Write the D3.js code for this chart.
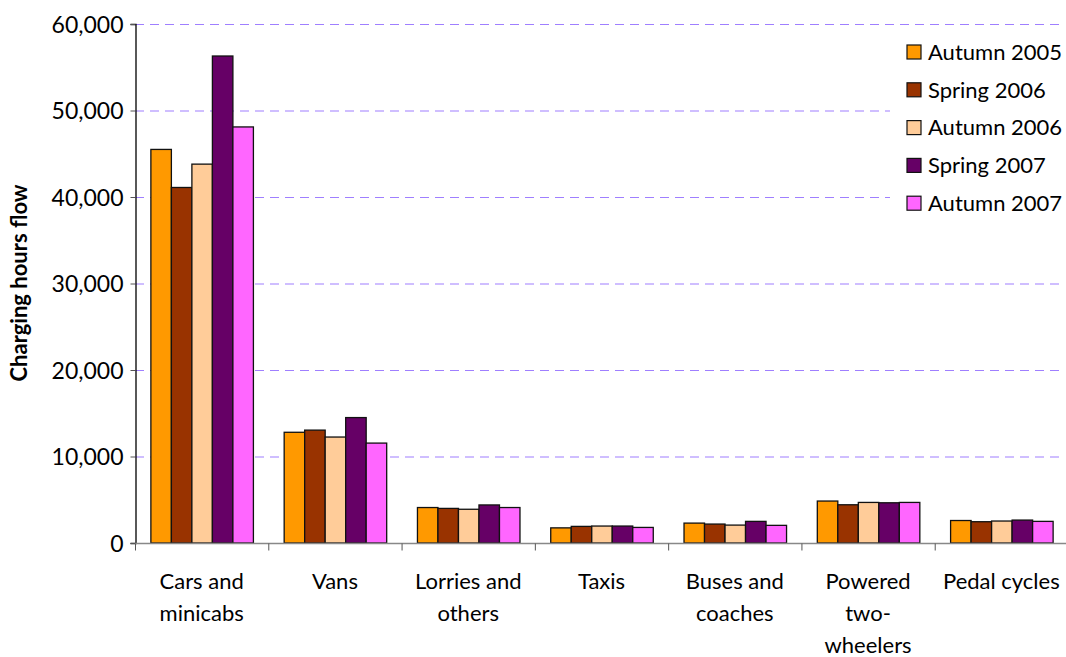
<!DOCTYPE html>
<html><head><meta charset="utf-8">
<script src="https://cdn.jsdelivr.net/npm/d3@7"></script>
<style>body{margin:0;background:#fff}svg{display:block}text{font-family:Lato,"Open Sans",sans-serif;fill:#000}</style>
</head><body><svg id="c" width="1066" height="657"></svg>
<script>
const categories = [["Cars and","minicabs"],["Vans"],["Lorries and","others"],["Taxis"],["Buses and","coaches"],["Powered","two-","wheelers"],["Pedal cycles"]];
const seriesNames = ["Autumn 2005","Spring 2006","Autumn 2006","Spring 2007","Autumn 2007"];
const seriesColors = ["#FF9900","#993300","#FFCC99","#660066","#FF66FF"];
const autumn2005 = [45500,12800,4100,1750,2300,4850,2600];
const spring2006 = [41100,13050,4000,1920,2190,4420,2460];
const autumn2006 = [43800,12250,3900,1960,2070,4690,2540];
const spring2007 = [56300,14500,4400,1960,2500,4650,2650];
const autumn2007 = [48100,11550,4100,1800,2040,4690,2500];
const yTicks = [0,10000,20000,30000,40000,50000,60000];
const yTitle = "Charging hours flow";

const series = [autumn2005,spring2006,autumn2006,spring2007,autumn2007];
const svg = d3.select("#c");
const L=135, R=1068, T=24, B=543;
const x0 = d3.scaleBand().domain(d3.range(categories.length)).range([L,R]).paddingInner(0).paddingOuter(0);
const x1 = d3.scaleBand().domain(d3.range(series.length)).range([0,x0.bandwidth()]).paddingOuter(0.75).paddingInner(0);
const y = d3.scaleLinear().domain([0,60000]).range([B,T]);

// gridlines
svg.append("g").selectAll("line").data(yTicks.filter(d=>d>0)).join("line")
  .attr("x1",L).attr("x2",1064).attr("y1",d=>y(d)+0.5).attr("y2",d=>y(d)+0.5)
  .attr("stroke","#9F7FFF").attr("stroke-width",1.2).attr("stroke-dasharray","9,6");

// legend bg
svg.append("rect").attr("x",890).attr("y",32).attr("width",176).attr("height",186).attr("fill","#fff");

// bars
const g = svg.append("g");
series.forEach((s,si)=>{
  g.selectAll(null).data(s).join("rect")
    .attr("x",(d,i)=>x0(i)+x1(si)+0.5)
    .attr("y",d=>y(d))
    .attr("width",x1.bandwidth())
    .attr("height",d=>B-y(d))
    .attr("fill",seriesColors[si]).attr("stroke","#111").attr("stroke-width",1.3);
});

// y axis
const ya = svg.append("g").attr("transform",`translate(${L+0.5},0)`)
  .call(d3.axisLeft(y).tickValues(yTicks).tickFormat(d3.format(",")).tickSize(5).tickPadding(7));
ya.select(".domain").attr("stroke","#000").attr("stroke-width",1.3);
ya.selectAll(".tick line").attr("stroke","#555");
ya.selectAll("text").style("font-size","23px").attr("dy","0.35em");

// x axis
const xa = svg.append("g").attr("transform",`translate(0,${B+0.5})`);
xa.append("line").attr("x1",L).attr("x2",R).attr("stroke","#888").attr("stroke-width",1.3);
xa.selectAll("line.t").data(d3.range(categories.length+1)).join("line").attr("class","t")
  .attr("x1",i=>L+i*x0.bandwidth()+0.5).attr("x2",i=>L+i*x0.bandwidth()+0.5)
  .attr("y1",0).attr("y2",7).attr("stroke","#555");
categories.forEach((c,i)=>{
  const t = svg.append("text").attr("text-anchor","middle").style("font-size","22px")
    .attr("x",x0(i)+x0.bandwidth()/2).attr("y",589);
  c.forEach((line,li)=>t.append("tspan").attr("x",x0(i)+x0.bandwidth()/2).attr("dy",li?32:0).text(line));
});

// y title
svg.append("text").attr("transform","translate(27,283) rotate(-90)").attr("text-anchor","middle")
  .style("font-size","22px").style("font-weight","bold").text(yTitle);

// legend
const lg = svg.append("g").selectAll("g").data(seriesNames).join("g")
  .attr("transform",(d,i)=>`translate(907,${52+i*37.8})`);
lg.append("rect").attr("x",0).attr("y",-7).attr("width",14).attr("height",14)
  .attr("fill",(d,i)=>seriesColors[i]).attr("stroke","#111").attr("stroke-width",1.2);
lg.append("text").attr("x",21).attr("y",0).attr("dy","0.35em").style("font-size","22px").text(d=>d);
</script></body></html>
